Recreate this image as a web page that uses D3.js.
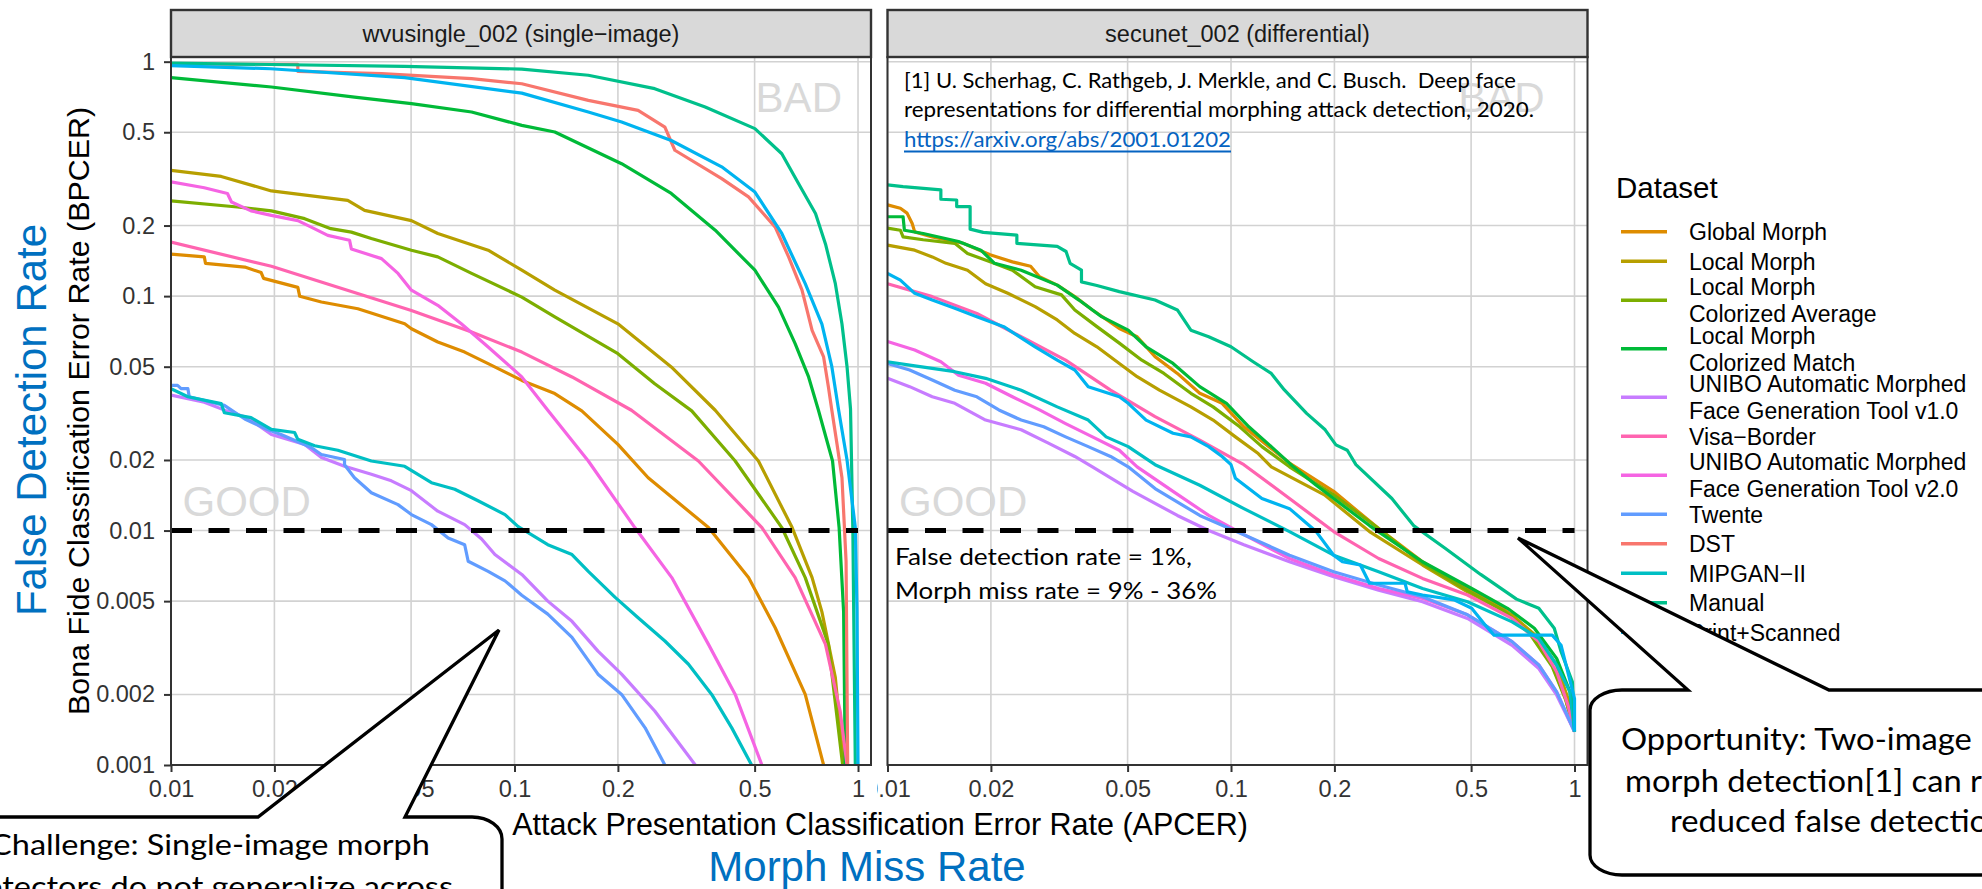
<!DOCTYPE html>
<html><head><meta charset="utf-8">
<script src="https://cdn.jsdelivr.net/npm/d3@7"></script>
<style>
html,body{margin:0;padding:0;background:#fff;overflow:hidden}
svg{display:block}
</style></head><body>
<svg id="c" width="1982" height="889"></svg>
<script>
// ---------------- DATA ----------------
const datasets = ["Global Morph","Local Morph","Local Morph\nColorized Average","Local Morph\nColorized Match",
  "UNIBO Automatic Morphed\nFace Generation Tool v1.0","Visa\u2212Border","UNIBO Automatic Morphed\nFace Generation Tool v2.0",
  "Twente","DST","MIPGAN\u2212II","Manual","Print+Scanned"];
const palette = ["#DE8C00","#B79F00","#7CAE00","#00BA38","#C77CFF","#FF64B0","#F564E3","#619CFF","#F8766D","#00BFC4","#00C08B","#00B4F0"];
const panelTitles = ["wvusingle_002 (single\u2212image)","secunet_002 (differential)"];
const xTicks = [0.01,0.02,0.05,0.1,0.2,0.5,1];
const xTickLabels = ["0.01","0.02","0.05","0.1","0.2","0.5","1"];
const yTicks = [1,0.5,0.2,0.1,0.05,0.02,0.01,0.005,0.002,0.001];
const yTickLabels = ["1","0.5","0.2","0.1","0.05","0.02","0.01","0.005","0.002","0.001"];
const threshold = 0.01;

// [APCER, BPCER] — wvusingle_002 (single-image)
const wvuGlobal = [[0.01,0.151],[0.0125,0.147],[0.0126,0.138],[0.0164,0.133],[0.0183,0.126],[0.0186,0.119],[0.0234,0.109],[0.0237,0.0998],[0.0274,0.0944],[0.035,0.0883],[0.0479,0.0762],[0.0501,0.0726],[0.0598,0.0637],[0.0716,0.0577],[0.0838,0.0515],[0.105,0.0437],[0.131,0.0384],[0.157,0.0324],[0.2,0.0233],[0.245,0.0168],[0.367,0.0103],[0.48,0.0063],[0.574,0.00385],[0.702,0.002],[0.794,0.001]];
const wvuLocal = [[0.01,0.344],[0.014,0.324],[0.0179,0.292],[0.0196,0.281],[0.0327,0.256],[0.0366,0.232],[0.0501,0.21],[0.0598,0.185],[0.0838,0.157],[0.105,0.129],[0.131,0.106],[0.2,0.0762],[0.286,0.0499],[0.384,0.0326],[0.513,0.0198],[0.643,0.0103],[0.735,0.0063],[0.785,0.0045],[0.859,0.00236],[0.908,0.001]];
const wvuLMCA = [[0.01,0.255],[0.0156,0.24],[0.0196,0.231],[0.0245,0.214],[0.0292,0.194],[0.0335,0.1875],[0.0383,0.176],[0.0501,0.157],[0.0598,0.147],[0.075,0.125],[0.105,0.099],[0.131,0.0815],[0.2,0.0568],[0.256,0.0423],[0.328,0.0324],[0.439,0.0198],[0.6,0.0103],[0.702,0.0063],[0.82,0.00327],[0.902,0.001]];
const wvuLMCM = [[0.01,0.855],[0.0196,0.78],[0.0342,0.706],[0.0501,0.662],[0.075,0.61],[0.105,0.535],[0.131,0.501],[0.205,0.367],[0.286,0.274],[0.384,0.191],[0.501,0.129],[0.587,0.0897],[0.656,0.0627],[0.718,0.0452],[0.767,0.0326],[0.843,0.0198],[0.881,0.0103],[0.908,0.0045],[0.918,0.001]];
const wvuUNIBO1 = [[0.01,0.0378],[0.0125,0.0353],[0.0145,0.0324],[0.0167,0.0303],[0.0196,0.0257],[0.0245,0.0233],[0.0274,0.0205],[0.032,0.0188],[0.0383,0.0174],[0.0438,0.0163],[0.0501,0.0148],[0.0598,0.0121],[0.0716,0.0106],[0.0802,0.0092],[0.0877,0.0079],[0.105,0.0065],[0.125,0.005],[0.147,0.0041],[0.175,0.00306],[0.205,0.00244],[0.256,0.0017],[0.336,0.001]];
const wvuVisa = [[0.01,0.17],[0.0196,0.134],[0.0306,0.109],[0.0501,0.0869],[0.075,0.0703],[0.105,0.0577],[0.147,0.0452],[0.219,0.0326],[0.343,0.0198],[0.525,0.0103],[0.656,0.0063],[0.804,0.00327],[0.887,0.0017],[0.929,0.001]];
const wvuUNIBO2 = [[0.01,0.307],[0.0125,0.29],[0.0146,0.274],[0.015,0.252],[0.0171,0.231],[0.0196,0.221],[0.0234,0.21],[0.0256,0.197],[0.0286,0.1815],[0.0331,0.173],[0.0335,0.159],[0.041,0.1445],[0.0458,0.125],[0.0501,0.106],[0.0598,0.0914],[0.07,0.0762],[0.0838,0.0607],[0.1025,0.0467],[0.105,0.0452],[0.125,0.0326],[0.164,0.0198],[0.224,0.0103],[0.287,0.0063],[0.367,0.00327],[0.439,0.002],[0.525,0.001]];
const wvuTwente = [[0.01,0.0416],[0.01045,0.0416],[0.0107,0.0403],[0.0112,0.0403],[0.0113,0.0372],[0.0143,0.0342],[0.0164,0.0299],[0.0191,0.027],[0.0209,0.0257],[0.0256,0.0226],[0.0274,0.0211],[0.032,0.0201],[0.032,0.0191],[0.0342,0.0168],[0.0383,0.0145],[0.0458,0.0129],[0.0501,0.0117],[0.0573,0.0106],[0.0641,0.0093],[0.0716,0.0087],[0.0733,0.0074],[0.0838,0.0067],[0.0938,0.0061],[0.105,0.0053],[0.125,0.0044],[0.147,0.0035],[0.175,0.00244],[0.205,0.002],[0.24,0.00144],[0.274,0.001]];
const wvuDST = [[0.01,0.975],[0.0234,0.975],[0.0234,0.91],[0.041,0.889],[0.075,0.847],[0.105,0.805],[0.164,0.684],[0.229,0.62],[0.274,0.526],[0.293,0.419],[0.401,0.317],[0.48,0.265],[0.574,0.197],[0.628,0.147],[0.687,0.106],[0.735,0.0714],[0.794,0.055],[0.82,0.041],[0.839,0.0326],[0.869,0.0233],[0.898,0.0168],[0.923,0.0074],[0.933,0.001]];
const wvuMIPGAN = [[0.01,0.0403],[0.0112,0.0372],[0.014,0.0348],[0.0143,0.0318],[0.0171,0.0303],[0.0196,0.027],[0.0229,0.0262],[0.0234,0.0245],[0.0262,0.023],[0.0306,0.022],[0.0383,0.0198],[0.0479,0.0188],[0.0573,0.016],[0.067,0.015],[0.0783,0.0134],[0.0938,0.0117],[0.1025,0.0104],[0.125,0.0087],[0.147,0.0079],[0.164,0.0067],[0.196,0.0052],[0.229,0.00425],[0.274,0.00338],[0.321,0.00269],[0.375,0.002],[0.429,0.00144],[0.49,0.001]];
const wvuManual = [[0.01,0.986],[0.0479,0.955],[0.105,0.93],[0.164,0.875],[0.256,0.767],[0.359,0.641],[0.501,0.518],[0.6,0.405],[0.671,0.302],[0.752,0.225],[0.804,0.167],[0.859,0.113],[0.898,0.076],[0.929,0.05],[0.951,0.033],[0.966,0.01],[0.982,0.001]];
const wvuPrint = [[0.01,0.962],[0.0195,0.933],[0.0479,0.855],[0.105,0.734],[0.164,0.61],[0.205,0.553],[0.286,0.461],[0.401,0.356],[0.501,0.278],[0.6,0.185],[0.702,0.113],[0.785,0.076],[0.839,0.05],[0.877,0.033],[0.929,0.02],[0.982,0.0103],[0.993,0.0046],[1.0,0.001]];

// [APCER, BPCER] — secunet_002 (differential)
const secGlobal = [[0.01,0.245],[0.0109,0.237],[0.0114,0.226],[0.0118,0.204],[0.012,0.188],[0.0135,0.179],[0.0166,0.168],[0.0199,0.15],[0.0231,0.14],[0.0261,0.134],[0.0277,0.121],[0.0312,0.1114],[0.0351,0.0995],[0.0395,0.0873],[0.0473,0.0728],[0.0533,0.0671],[0.0601,0.0552],[0.0698,0.0468],[0.0811,0.0385],[0.0942,0.0349],[0.109,0.0277],[0.127,0.0232],[0.148,0.0194],[0.199,0.0147],[0.269,0.0102],[0.361,0.00736],[0.488,0.00566],[0.619,0.00466],[0.741,0.0037],[0.861,0.00267],[0.942,0.00192],[1.0,0.00139]];
const secLocal = [[0.01,0.165],[0.012,0.157],[0.0135,0.147],[0.0148,0.138],[0.0171,0.129],[0.0193,0.113],[0.0224,0.1028],[0.0269,0.0902],[0.0312,0.0791],[0.0351,0.0693],[0.0407,0.0608],[0.0473,0.0516],[0.0533,0.0453],[0.0619,0.0397],[0.0764,0.0337],[0.0887,0.0296],[0.103,0.0251],[0.12,0.0213],[0.131,0.0187],[0.187,0.0142],[0.253,0.0099],[0.361,0.00713],[0.488,0.00548],[0.658,0.00437],[0.787,0.00347],[0.887,0.00267],[0.957,0.00192],[1.0,0.00139]];
const secLMCA = [[0.01,0.195],[0.0109,0.191],[0.0111,0.179],[0.0127,0.174],[0.0157,0.168],[0.0171,0.152],[0.0199,0.14],[0.0231,0.129],[0.0269,0.1096],[0.0321,0.1012],[0.0351,0.0873],[0.0407,0.0741],[0.0473,0.063],[0.055,0.0533],[0.0638,0.0468],[0.0764,0.0385],[0.0887,0.0337],[0.106,0.0277],[0.123,0.0228],[0.148,0.0187],[0.199,0.0142],[0.269,0.0102],[0.361,0.00724],[0.488,0.00556],[0.619,0.00457],[0.741,0.00363],[0.861,0.00263],[0.942,0.0019],[1.0,0.00139]];
const secLMCM = [[0.01,0.218],[0.0111,0.218],[0.0112,0.191],[0.0127,0.185],[0.0161,0.171],[0.0187,0.157],[0.0205,0.138],[0.0245,0.129],[0.0312,0.1114],[0.0361,0.0962],[0.042,0.0817],[0.0502,0.0716],[0.0566,0.0608],[0.0678,0.0516],[0.0811,0.0411],[0.097,0.0349],[0.1127,0.0277],[0.131,0.0228],[0.152,0.0187],[0.177,0.0156],[0.253,0.0105],[0.361,0.00736],[0.502,0.00566],[0.638,0.00466],[0.764,0.00383],[0.887,0.00285],[0.97,0.00205],[1.0,0.00139]];
const secUNIBO1 = [[0.01,0.0446],[0.0116,0.0411],[0.0135,0.0372],[0.0157,0.0349],[0.0193,0.0296],[0.0245,0.0269],[0.0294,0.0236],[0.0351,0.0207],[0.0395,0.0187],[0.0518,0.0147],[0.0698,0.0116],[0.0861,0.01],[0.109,0.0087],[0.148,0.00736],[0.199,0.00635],[0.269,0.00557],[0.361,0.00497],[0.488,0.00422],[0.658,0.00324],[0.787,0.00258],[0.887,0.00199],[1.0,0.00139]];
const secVisa = [[0.01,0.113],[0.0135,0.0995],[0.0182,0.0843],[0.0245,0.0671],[0.033,0.0533],[0.0446,0.0397],[0.0601,0.0306],[0.0811,0.0243],[0.109,0.0191],[0.148,0.0137],[0.199,0.0099],[0.269,0.0076],[0.361,0.00625],[0.488,0.00531],[0.658,0.00422],[0.787,0.00336],[0.887,0.0025],[0.957,0.0018],[1.0,0.00139]];
const secUNIBO2 = [[0.01,0.064],[0.012,0.0589],[0.0143,0.0525],[0.0161,0.046],[0.0193,0.0425],[0.0231,0.0372],[0.0277,0.0327],[0.033,0.0286],[0.0395,0.0251],[0.0473,0.022],[0.0533,0.0187],[0.0678,0.0147],[0.0861,0.0116],[0.109,0.0096],[0.148,0.0076],[0.199,0.00646],[0.269,0.00566],[0.361,0.00514],[0.488,0.00437],[0.658,0.00336],[0.787,0.00267],[0.887,0.00205],[1.0,0.00139]];
const secTwente = [[0.01,0.0516],[0.0116,0.0484],[0.0135,0.0439],[0.0157,0.0397],[0.0182,0.0372],[0.0211,0.0327],[0.0245,0.0296],[0.0285,0.0277],[0.033,0.0251],[0.0384,0.0228],[0.0446,0.0207],[0.0502,0.0187],[0.0601,0.0151],[0.0811,0.0116],[0.109,0.0096],[0.148,0.00785],[0.199,0.00667],[0.269,0.00586],[0.361,0.00522],[0.488,0.00437],[0.658,0.00336],[0.787,0.00267],[0.887,0.00205],[1.0,0.00139]];
const secMIPGAN = [[0.01,0.0525],[0.0116,0.0508],[0.0157,0.0476],[0.0193,0.0446],[0.0245,0.0397],[0.0312,0.0337],[0.0384,0.0296],[0.0433,0.0251],[0.0502,0.0228],[0.0601,0.0191],[0.0811,0.0156],[0.109,0.0124],[0.148,0.0099],[0.199,0.00785],[0.269,0.00667],[0.361,0.00566],[0.488,0.00497],[0.658,0.00408],[0.787,0.00347],[0.887,0.00267],[0.97,0.00205],[1.0,0.00139]];
const secManual = [[0.01,0.298],[0.0111,0.293],[0.0143,0.284],[0.0143,0.259],[0.0159,0.257],[0.0159,0.241],[0.0174,0.241],[0.0174,0.193],[0.019,0.187],[0.0238,0.182],[0.0238,0.168],[0.0312,0.163],[0.0331,0.155],[0.034,0.138],[0.0367,0.129],[0.0367,0.115],[0.0407,0.111],[0.0473,0.1045],[0.0601,0.0962],[0.0698,0.0873],[0.0764,0.0716],[0.0861,0.0671],[0.1,0.0608],[0.116,0.0525],[0.131,0.0468],[0.143,0.0398],[0.166,0.0316],[0.188,0.0269],[0.202,0.0232],[0.218,0.022],[0.231,0.0191],[0.294,0.0137],[0.34,0.0105],[0.42,0.0084],[0.533,0.0065],[0.678,0.0051],[0.787,0.00466],[0.873,0.00383],[0.914,0.00304],[0.986,0.00226],[1.0,0.00139]];
const secPrint = [[0.01,0.125],[0.0109,0.117],[0.012,0.1028],[0.0135,0.0962],[0.0157,0.0887],[0.0182,0.0817],[0.0218,0.0741],[0.0269,0.0608],[0.0312,0.0533],[0.0351,0.0484],[0.0384,0.0411],[0.0473,0.0372],[0.0502,0.0349],[0.0566,0.0296],[0.0678,0.026],[0.0764,0.0251],[0.0861,0.0228],[0.0942,0.0207],[0.1,0.0191],[0.103,0.0167],[0.123,0.0137],[0.148,0.0124],[0.177,0.0099],[0.199,0.00785],[0.211,0.00736],[0.238,0.00713],[0.253,0.00596],[0.321,0.00596],[0.326,0.00548],[0.361,0.00531],[0.446,0.00506],[0.502,0.00466],[0.55,0.00395],[0.583,0.00358],[0.861,0.00358],[0.914,0.00324],[1.0,0.00192],[1.0,0.00139]];

const panelSeries = [
  [wvuGlobal,wvuLocal,wvuLMCA,wvuLMCM,wvuUNIBO1,wvuVisa,wvuUNIBO2,wvuTwente,wvuDST,wvuMIPGAN,wvuManual,wvuPrint],
  [secGlobal,secLocal,secLMCA,secLMCM,secUNIBO1,secVisa,secUNIBO2,secTwente,null,secMIPGAN,secManual,secPrint]
];

// ---------------- DRAW ----------------
const svg = d3.select("#c");
const sans = "'Liberation Sans', Arial, Helvetica, sans-serif";
const cal = "Lato, 'Open Sans', sans-serif";
const defs = svg.append("defs");

const panelLeft = [171, 887.5], PW = 700, PT = 57, PB = 765, ST = 10;
const yScale = d3.scaleLog().domain([0.001, 1.047]).range([PB, PT]);

panelSeries.forEach((series, p) => {
  const L = panelLeft[p];
  const x = d3.scaleLog().domain([0.01, 1.0909]).range([L, L + PW]);
  const y = yScale;
  const g = svg.append("g");
  defs.append("clipPath").attr("id", "clip" + p)
    .append("rect").attr("x", L).attr("y", PT).attr("width", PW).attr("height", PB - PT);

  g.append("rect").attr("x", L).attr("y", PT).attr("width", PW).attr("height", PB - PT).attr("fill", "#fff");
  // grid
  g.selectAll(".vg").data(xTicks).join("line")
    .attr("x1", d => x(d)).attr("x2", d => x(d)).attr("y1", PT).attr("y2", PB)
    .attr("stroke", "#d2d2d2").attr("stroke-width", 1.6);
  g.selectAll(".hg").data(yTicks).join("line")
    .attr("x1", L).attr("x2", L + PW).attr("y1", d => y(d)).attr("y2", d => y(d))
    .attr("stroke", "#d2d2d2").attr("stroke-width", 1.6);

  // GOOD / BAD
  g.append("text").attr("x", x(0.0108)).attr("y", y(0.0115)).text("GOOD")
    .attr("font-family", sans).attr("font-size", 42).attr("fill", "#d9d9d9");
  g.append("text").attr("x", x(p === 0 ? 0.898 : 0.818)).attr("y", y(0.61)).attr("text-anchor", "end").text("BAD")
    .attr("font-family", sans).attr("font-size", 42).attr("fill", "#d9d9d9");

  // curves
  const line = d3.line().x(d => x(d[0])).y(d => y(d[1]));
  const cg = g.append("g").attr("clip-path", `url(#clip${p})`);
  series.forEach((s, i) => {
    if (!s) return;
    cg.append("path").attr("d", line(s)).attr("fill", "none")
      .attr("stroke", palette[i]).attr("stroke-width", 3.2).attr("stroke-linejoin", "round");
  });

  // threshold line
  g.append("line").attr("x1", x(0.01)).attr("x2", x(1)).attr("y1", y(threshold)).attr("y2", y(threshold))
    .attr("stroke", "#000").attr("stroke-width", 5).attr("stroke-dasharray", "21 16.5");

  // border
  g.append("rect").attr("x", L).attr("y", PT).attr("width", PW).attr("height", PB - PT)
    .attr("fill", "none").attr("stroke", "#333").attr("stroke-width", 2);
  // strip
  g.append("rect").attr("x", L).attr("y", ST).attr("width", PW).attr("height", PT - ST)
    .attr("fill", "#d9d9d9").attr("stroke", "#333").attr("stroke-width", 2.4);
  g.append("text").attr("x", L + PW / 2).attr("y", 42).attr("text-anchor", "middle")
    .attr("font-family", sans).attr("font-size", 23.5).attr("fill", "#1a1a1a").text(panelTitles[p]);

  // x axis
  if (p === 1) {
    defs.append("clipPath").attr("id", "axclip1").append("rect")
      .attr("x", 877).attr("y", -5).attr("width", 800).attr("height", 60);
  }
  const xa = g.append("g").attr("transform", `translate(0,${PB})`)
    .call(d3.axisBottom(x).tickValues(xTicks).tickFormat((d, i) => xTickLabels[i]).tickSize(7).tickPadding(8));
  if (p === 1) xa.attr("clip-path", "url(#axclip1)");
  xa.select(".domain").remove();
  xa.selectAll("line").attr("stroke", "#333").attr("stroke-width", 2);
  xa.selectAll("text").attr("font-family", sans).attr("font-size", 23.5).attr("fill", "#333");

  if (p === 0) {
    const ya = g.append("g").attr("transform", `translate(${L},0)`)
      .call(d3.axisLeft(y).tickValues(yTicks).tickFormat((d, i) => yTickLabels[i]).tickSize(7).tickPadding(9));
    ya.select(".domain").remove();
    ya.selectAll("line").attr("stroke", "#333").attr("stroke-width", 2);
    ya.selectAll("text").attr("font-family", sans).attr("font-size", 23.5).attr("fill", "#333");
  }
});

// axis titles
svg.append("text").attr("x", 880).attr("y", 835).attr("text-anchor", "middle")
  .attr("font-family", sans).attr("font-size", 30.5).attr("fill", "#000")
  .text("Attack Presentation Classification Error Rate (APCER)");
svg.append("text").attr("transform", "translate(89,411) rotate(-90)").attr("text-anchor", "middle")
  .attr("font-family", sans).attr("font-size", 30.4).attr("fill", "#000")
  .text("Bona Fide Classification Error Rate (BPCER)");
svg.append("text").attr("transform", "translate(46,420) rotate(-90)").attr("text-anchor", "middle")
  .attr("font-family", sans).attr("font-size", 42).attr("fill", "#0070C0").text("False Detection Rate");
svg.append("text").attr("x", 867).attr("y", 881).attr("text-anchor", "middle")
  .attr("font-family", sans).attr("font-size", 42).attr("fill", "#0070C0").text("Morph Miss Rate");

// legend
const lg = svg.append("g");
lg.append("text").attr("x", 1616).attr("y", 198).attr("font-family", sans).attr("font-size", 29.5).attr("fill", "#000").text("Dataset");
let cy = 231.7, prevH = null;
datasets.forEach((name, i) => {
  const lines = name.split("\n");
  const h = lines.length === 1 ? 29.5 : 48.5;
  if (prevH !== null) cy += prevH / 2 + h / 2;
  prevH = h;
  lg.append("line").attr("x1", 1621).attr("x2", 1667).attr("y1", cy).attr("y2", cy)
    .attr("stroke", palette[i]).attr("stroke-width", 3.4);
  lines.forEach((t, k) => {
    lg.append("text").attr("x", 1689).attr("y", cy + 8.5 + (k - (lines.length - 1) / 2) * 26.7)
      .attr("font-family", sans).attr("font-size", 23).attr("fill", "#000").text(t);
  });
});

// citation / annotations (slide overlays)
function fitted(x, yb, txt, size, width, color) {
  return svg.append("text").attr("x", x).attr("y", yb).attr("font-family", cal).attr("font-size", size)
    .attr("fill", color || "#000").style("white-space", "pre")
    .attr("textLength", width).attr("lengthAdjust", "spacingAndGlyphs").text(txt);
}
fitted(904, 88, "[1] U. Scherhag, C. Rathgeb, J. Merkle, and C. Busch.  Deep face", 20.5, 612);
fitted(904, 117, "representations for differential morphing attack detection, 2020.", 20.5, 630);
fitted(904, 147, "https://arxiv.org/abs/2001.01202", 20.5, 327, "#0563C1");
svg.append("line").attr("x1", 904).attr("x2", 1231).attr("y1", 151.5).attr("y2", 151.5)
  .attr("stroke", "#0563C1").attr("stroke-width", 2);
fitted(895, 565, "False detection rate = 1%,", 23, 297);
fitted(895, 599, "Morph miss rate = 9% - 36%", 23, 322);

// callouts
svg.append("path")
  .attr("d", "M -20 817 L 258 817 L 499 630 L 405 817 L 472 817 A 30 22 0 0 1 502 839 L 502 905 L -20 905 Z")
  .attr("fill", "#fff").attr("stroke", "#000").attr("stroke-width", 3.3).attr("stroke-linejoin", "miter");
svg.append("path")
  .attr("d", "M 1622 690 L 1688 690 L 1518 538 L 1829 690 L 2000 690 L 2000 875 L 1622 875 A 32 20 0 0 1 1590 855 L 1590 710 A 32 20 0 0 1 1622 690 Z")
  .attr("fill", "#fff").attr("stroke", "#000").attr("stroke-width", 3.3).attr("stroke-linejoin", "miter");

function scaledLines(lines, size, refWidth, anchor) {
  const nodes = lines.map(l => svg.append("text").attr("font-family", cal).attr("font-size", size)
    .attr("fill", "#000").attr("text-anchor", anchor).text(l.t));
  const w = nodes[0].node().getComputedTextLength();
  const s = refWidth / w;
  nodes.forEach((n, i) => n.attr("transform", `translate(${lines[i].x},${lines[i].y}) scale(${s},1)`));
}
scaledLines([{t: "Challenge: Single-image morph", x: 210, y: 855},
             {t: "detectors do not generalize across", x: 210, y: 897}], 29.5, 440, "middle");
scaledLines([{t: "Opportunity: Two-image", x: 1621, y: 750},
             {t: "morph detection[1] can result in", x: 1625, y: 792},
             {t: "reduced false detection", x: 1670, y: 832}], 30, 351, "start");
</script>
</body></html>
